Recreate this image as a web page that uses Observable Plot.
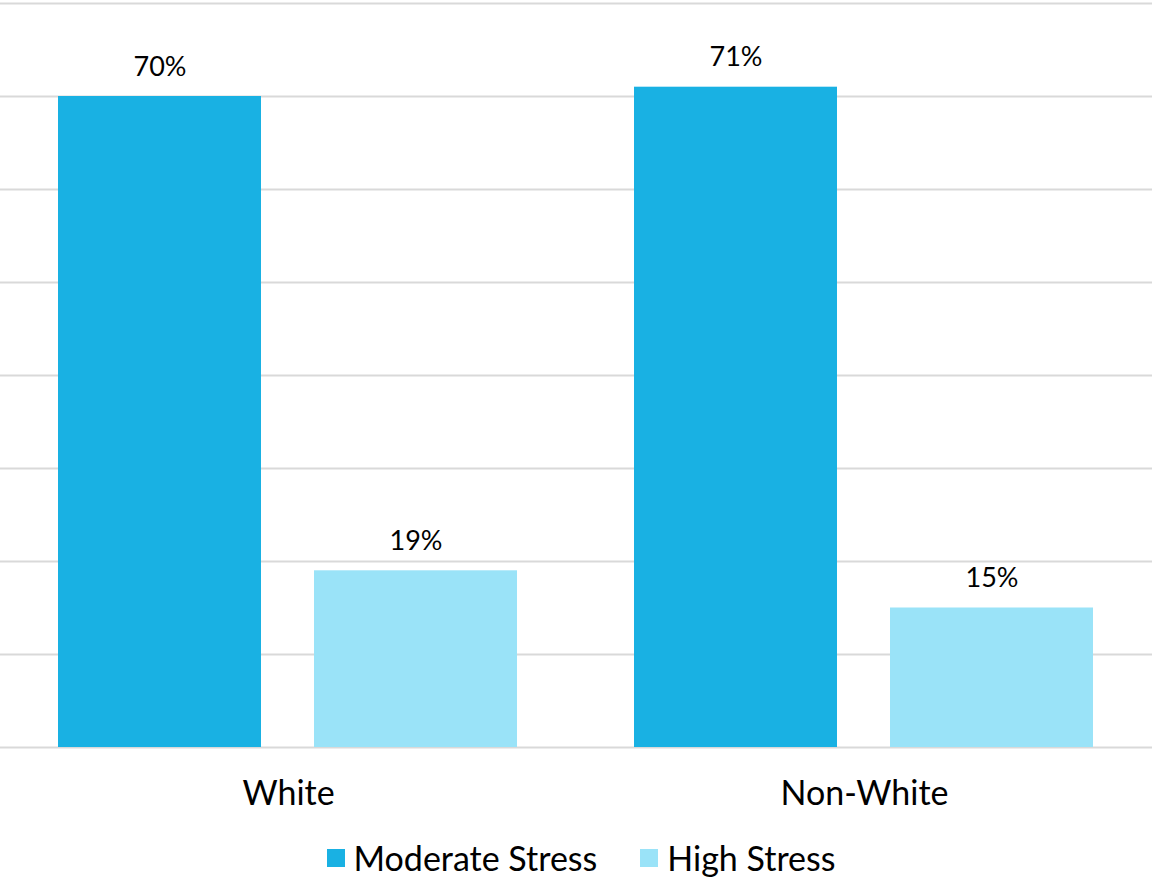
<!DOCTYPE html>
<html>
<head>
<meta charset="utf-8">
<script src="https://cdn.jsdelivr.net/npm/d3@7"></script>
<script src="https://cdn.jsdelivr.net/npm/@observablehq/plot@0.6"></script>
<style>
  html, body { margin: 0; padding: 0; background: #fff; }
  #chart { width: 1152px; }
  .legend { display: flex; justify-content: center; align-items: center; gap: 43px;
    font-family: Lato, "Open Sans", sans-serif; font-size: 34px; color: #000;
    line-height: 40px; margin-top: 18px; padding-left: 10px; }
  .legend span.item { display: inline-flex; align-items: center; }
  .legend i { display: inline-block; width: 18px; height: 18px; margin-right: 9px; }
</style>
</head>
<body>
<div id="chart"></div>
<script>
const groups = ["White", "Non-White"];
const series = ["Moderate Stress", "High Stress"];
const moderate = [70, 71];
const high = [19, 15];
const colors = ["#19B1E3", "#9AE3F8"];
const gridTicks = [0, 10, 20, 30, 40, 50, 60, 70, 80];

const data = [];
groups.forEach((g, i) => {
  data.push({group: g, series: series[0], value: moderate[i]});
  data.push({group: g, series: series[1], value: high[i]});
});

const chart = Plot.plot({
  width: 1152,
  height: 820,
  marginTop: 3,
  marginBottom: 73,
  marginLeft: 0,
  marginRight: 0,
  style: {fontFamily: "Lato, 'Open Sans', sans-serif", background: "#fff", color: "#000"},
  fx: {domain: groups, padding: 0, label: null},
  x: {domain: series, axis: null, paddingInner: 0.207, paddingOuter: 0.2285},
  y: {domain: [0, 80], axis: null},
  color: {domain: series, range: colors},
  marks: [
    Plot.ruleY(gridTicks, {stroke: "#d9d9d9", strokeWidth: 2}),
    Plot.barY(data, {fx: "group", x: "series", y: "value", fill: "series"}),
    Plot.text(data, {fx: "group", x: "series", y: "value", text: d => d.value + "%",
      lineAnchor: "bottom", dy: -21, fontSize: 27, fill: "#000"}),
    Plot.axisFx({anchor: "bottom", tickSize: 0, tickPadding: 33, fontSize: 34, label: null, fill: "#000"})
  ]
});
document.getElementById("chart").appendChild(chart);

const legend = document.createElement("div");
legend.className = "legend";
series.forEach((s, i) => {
  const item = document.createElement("span");
  item.className = "item";
  const sw = document.createElement("i");
  sw.style.background = colors[i];
  item.appendChild(sw);
  item.appendChild(document.createTextNode(s));
  legend.appendChild(item);
});
document.getElementById("chart").appendChild(legend);
</script>
</body>
</html>
